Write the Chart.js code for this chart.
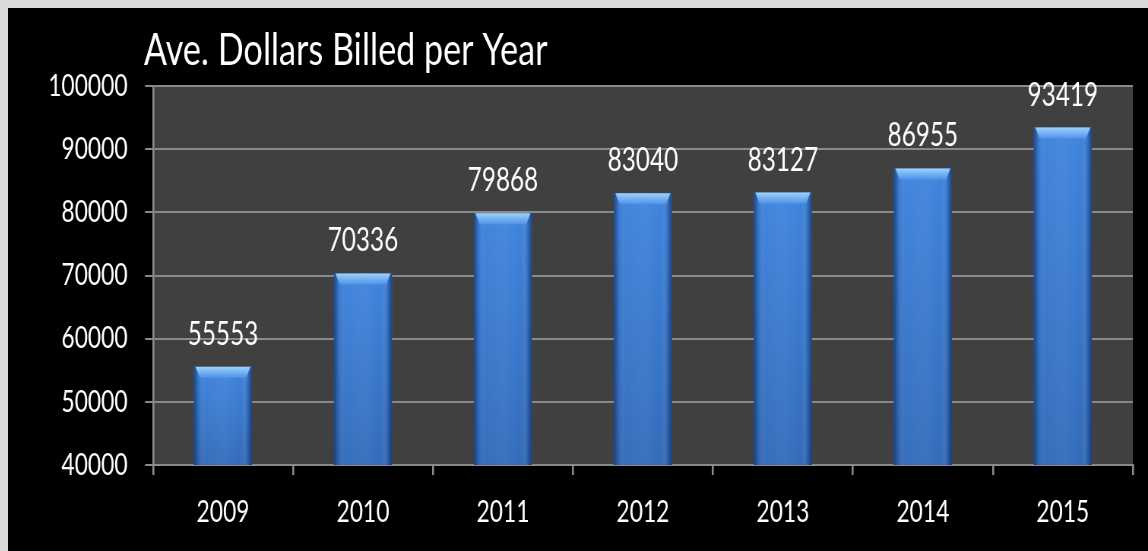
<!DOCTYPE html>
<html>
<head>
<meta charset="utf-8">
<title>Ave. Dollars Billed per Year</title>
<script src="https://cdn.jsdelivr.net/npm/chart.js@4.4.0/dist/chart.umd.min.js"></script>
<style>
    html, body { margin: 0; padding: 0; background: #d9d9d9; overflow: hidden; }
    #frame { position: absolute; left: 8px; top: 8px; width: 1140px; height: 543px; background: #000; overflow: hidden; }
    /* the original picture is squeezed horizontally, so the canvas is too */
    #billed { position: absolute; left: 0; top: 0; transform: scaleX(0.76); transform-origin: 0 0; }
</style>
</head>
<body>
<div id="frame">
    <canvas id="billed" width="1500" height="543"></canvas>
</div>
<script>
'use strict';

const years = ['2009', '2010', '2011', '2012', '2013', '2014', '2015'];
const dollarsBilled = [55553, 70336, 79868, 83040, 83127, 86955, 93419];
const chartTitle = 'Ave. Dollars Billed per Year';
const yMin = 40000;
const yMax = 100000;
const yStep = 10000;

Chart.defaults.font.family = 'Lato';
Chart.defaults.color = '#ffffff';

// Fondo gris del area de trazado
const plotBackground = {
    id: 'plotBackground',
    beforeDraw(chart) {
        const { ctx, chartArea } = chart;
        ctx.save();
        ctx.fillStyle = '#404040';
        ctx.fillRect(chartArea.left, chartArea.top, chartArea.right - chartArea.left, chartArea.bottom - chartArea.top);
        ctx.restore();
    }
};

// Sombreado de las barras (bordes oscuros y bisel arriba)
const barShading = {
    id: 'barShading',
    afterDatasetsDraw(chart) {
        const { ctx, chartArea } = chart;
        const meta = chart.getDatasetMeta(0);
        ctx.save();
        ctx.beginPath();
        ctx.rect(chartArea.left, chartArea.top, chartArea.right - chartArea.left, chartArea.bottom - chartArea.top);
        ctx.clip();
        meta.data.forEach(bar => {
            const left = bar.x - bar.width / 2;
            const right = bar.x + bar.width / 2;
            const top = bar.y;
            const bottom = Math.min(bar.base, chartArea.bottom);
            const w = right - left;

            const down = ctx.createLinearGradient(0, top, 0, bottom);
            down.addColorStop(0, 'rgba(0, 10, 40, 0)');
            down.addColorStop(1, 'rgba(0, 10, 40, 0.2)');
            ctx.fillStyle = down;
            ctx.fillRect(left, top, w, bottom - top);

            const side = ctx.createLinearGradient(left, 0, right, 0);
            side.addColorStop(0, 'rgba(15, 45, 100, 0.7)');
            side.addColorStop(0.07, 'rgba(15, 45, 100, 0.2)');
            side.addColorStop(0.2, 'rgba(255, 255, 255, 0.02)');
            side.addColorStop(0.5, 'rgba(255, 255, 255, 0.05)');
            side.addColorStop(0.82, 'rgba(255, 255, 255, 0.0)');
            side.addColorStop(0.93, 'rgba(15, 45, 100, 0.25)');
            side.addColorStop(1, 'rgba(15, 45, 100, 0.75)');
            ctx.fillStyle = side;
            ctx.fillRect(left, top, w, bottom - top);

            const bevel = 11;
            const inset = w * 0.1;
            const topGrad = ctx.createLinearGradient(0, top, 0, top + bevel);
            topGrad.addColorStop(0, '#9ed0fb');
            topGrad.addColorStop(1, '#4f94e8');
            ctx.fillStyle = topGrad;
            ctx.beginPath();
            ctx.moveTo(left + 2, top);
            ctx.lineTo(right - 2, top);
            ctx.lineTo(right - inset, top + bevel);
            ctx.lineTo(left + inset, top + bevel);
            ctx.closePath();
            ctx.fill();
        });
        ctx.restore();
    }
};

// Valores encima de cada barra
const valueLabels = {
    id: 'valueLabels',
    afterDraw(chart) {
        const ctx = chart.ctx;
        const meta = chart.getDatasetMeta(0);
        ctx.save();
        ctx.fillStyle = '#ffffff';
        ctx.font = '32px Lato';
        ctx.textAlign = 'center';
        ctx.textBaseline = 'alphabetic';
        meta.data.forEach((bar, i) => {
            ctx.fillText(String(dollarsBilled[i]), bar.x, bar.y - 22);
        });
        ctx.restore();
    }
};

// Titulo arriba a la izquierda
const titleText = {
    id: 'titleText',
    afterDraw(chart) {
        const ctx = chart.ctx;
        ctx.save();
        ctx.fillStyle = '#ffffff';
        ctx.font = '45px Lato';
        ctx.textAlign = 'left';
        ctx.textBaseline = 'alphabetic';
        ctx.fillText(chartTitle, chart.chartArea.left - 12, 57);
        ctx.restore();
    }
};

new Chart(document.getElementById('billed'), {
    type: 'bar',
    data: {
        labels: years,
        datasets: [{
            data: dollarsBilled,
            backgroundColor: '#3f84de',
            borderWidth: 0,
            barPercentage: 0.415,
            categoryPercentage: 1
        }]
    },
    options: {
        responsive: false,
        animation: false,
        devicePixelRatio: 1,
        layout: { padding: { top: 78, right: 20, left: 0, bottom: 0 } },
        plugins: {
            legend: { display: false },
            title: { display: false },
            tooltip: { enabled: false }
        },
        scales: {
            x: {
                grid: {
                    display: true,
                    drawOnChartArea: false,
                    drawTicks: true,
                    tickLength: 10,
                    color: '#8a8a8a',
                    lineWidth: 2.6
                },
                border: { color: '#8a8a8a', width: 2 },
                ticks: { color: '#ffffff', font: { size: 30 }, padding: 19 },
                afterFit(scale) { scale.height = 86; }
            },
            y: {
                min: yMin,
                max: yMax,
                grid: {
                    color: '#8a8a8a',
                    lineWidth: 2,
                    tickLength: 10.5
                },
                border: { color: '#8a8a8a', width: 2.6 },
                ticks: {
                    stepSize: yStep,
                    color: '#ffffff',
                    font: { size: 30 },
                    padding: 23,
                    callback: value => String(value)
                },
                afterFit(scale) { scale.width = 190.8; }
            }
        }
    },
    plugins: [plotBackground, barShading, valueLabels, titleText]
});
</script>
</body>
</html>
